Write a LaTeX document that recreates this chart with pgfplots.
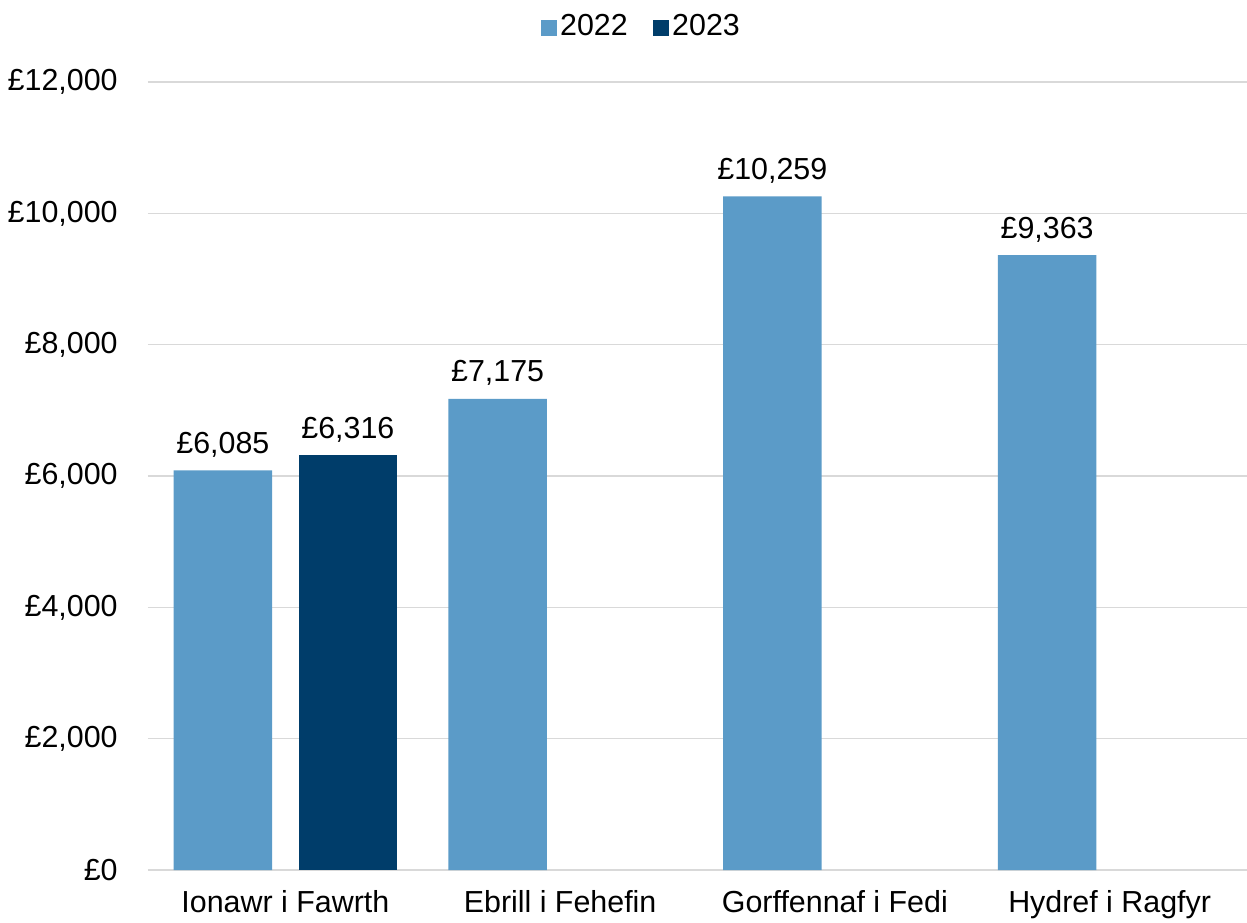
\documentclass[border=0pt]{standalone}
\usepackage{pgfplots}
\pgfplotsset{compat=1.18}
\usepackage{fontspec}
\setmainfont{Liberation Sans}
\definecolor{lightbar}{HTML}{5B9BC8}
\definecolor{darkbar}{HTML}{003D6A}
\definecolor{gridgray}{HTML}{D9D9D9}

\begin{document}
\fontsize{15.2}{18}\selectfont
\begin{tikzpicture}
\begin{axis}[
  scale only axis, width=549.5pt, height=394pt,
  xmin=-0.5, xmax=3.5, ymin=0, ymax=12000,
  ybar, bar width=0.3585,
  every axis plot post/.append style={
    legend image code/.code={\fill[##1] (0pt,-4pt) rectangle (8pt,4pt);}},
  xtick={0,1,2,3},
  xticklabels={Ionawr i Fawrth, Ebrill i Fehefin, Gorffennaf i Fedi, Hydref i Ragfyr},
  ytick={0,2000,...,12000},
  scaled y ticks=false,
  yticklabel={£\pgfmathprintnumber[fixed,precision=0,1000 sep={,},assume math mode=true]{\tick}},
  yticklabel style={anchor=east, inner sep=0pt, xshift=-15pt},
  xticklabel style={anchor=north, inner sep=0pt, yshift=-10pt},
  ymajorgrids, grid style={gridgray, line width=0.75pt},
  axis line style={draw=none},
  major tick length=0pt,
  point meta=y,
  nodes near coords={£\pgfmathprintnumber[fixed,precision=0,1000 sep={,},assume math mode=true]{\pgfplotspointmeta}},
  every node near coord/.append style={anchor=base, inner sep=0pt, yshift=8.5pt, text=black},
  legend columns=2,
  legend style={at={(0.4495,1.069)}, anchor=center, draw=none, fill=none,
    nodes={inner sep=1.6pt},
    /tikz/every even column/.append style={column sep=11pt}},
]
\addplot[fill=lightbar, draw=none, bar shift=-0.2275]
  coordinates {(0,6085) (1,7175) (2,10259) (3,9363)};
\addlegendentry{2022}
\addplot[fill=darkbar, draw=none, bar shift=0.2275]
  coordinates {(0,6316)};
\addlegendentry{2023}
\end{axis}
\pgfresetboundingbox
\path ([shift={(-74pt,-26pt)}]current axis.south west) rectangle ([shift={(0pt,41pt)}]current axis.north east);
\end{tikzpicture}
\end{document}
